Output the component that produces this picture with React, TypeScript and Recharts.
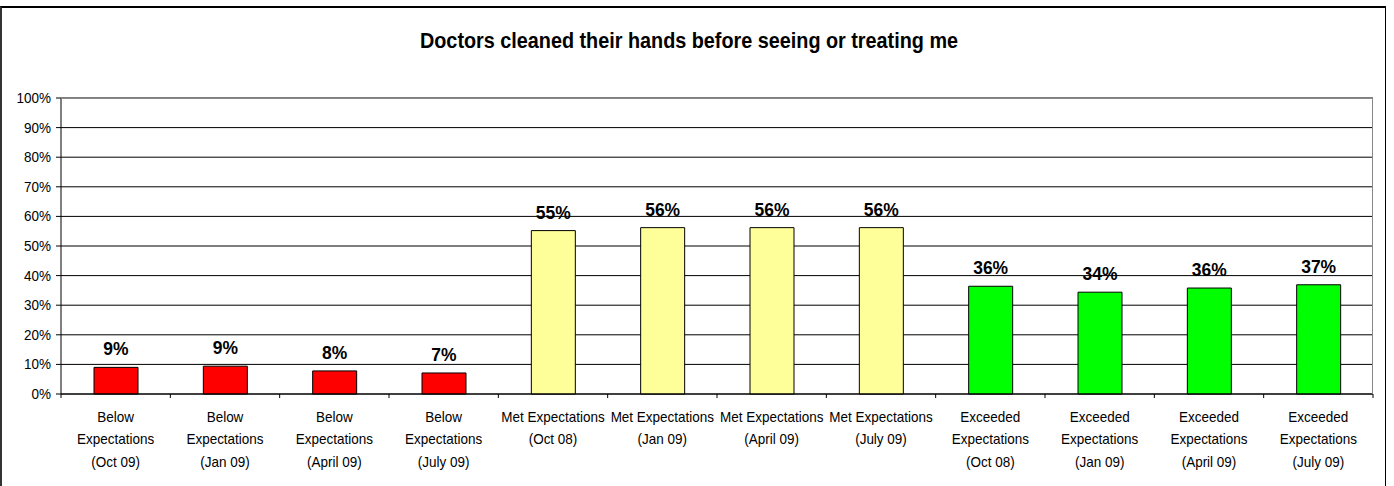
import { BarChart, Bar, XAxis, YAxis, CartesianGrid, Cell, LabelList } from 'recharts'

// categories, one line break per rendered line
const categories = [
  'Below\nExpectations\n(Oct 09)',
  'Below\nExpectations\n(Jan 09)',
  'Below\nExpectations\n(April 09)',
  'Below\nExpectations\n(July 09)',
  'Met Expectations\n(Oct 08)',
  'Met Expectations\n(Jan 09)',
  'Met Expectations\n(April 09)',
  'Met Expectations\n(July 09)',
  'Exceeded\nExpectations\n(Oct 08)',
  'Exceeded\nExpectations\n(Jan 09)',
  'Exceeded\nExpectations\n(April 09)',
  'Exceeded\nExpectations\n(July 09)',
]

// % of responses
const percents = [9.0, 9.4, 7.8, 7.1, 55.2, 56.2, 56.2, 56.2, 36.4, 34.4, 35.8, 36.9]

const yTicks = [0, 10, 20, 30, 40, 50, 60, 70, 80, 90, 100]

const title = 'Doctors cleaned their hands before seeing or treating me'

// fill by rating group (first word of the category)
const groupFill: Record<string, string> = {
  Below: '#FF0000',
  Met: '#FFFF99',
  Exceeded: '#00FF00',
}

const W = 1394
const H = 486
const PLOT_L = 61
const PLOT_R = 1373
const PLOT_T = 98
const PLOT_B = 394
const Y_AXIS_W = 50
const X_AXIS_H = 80
const BAND = (PLOT_R - PLOT_L) / categories.length
const FONT = '"Liberation Sans", Arial, sans-serif'
// the original text is drawn a bit narrow
const NARROW = 0.9

const data = categories.map((name, i) => ({ name, value: percents[i] }))

function CategoryTick(props: any) {
  const { x, index, payload } = props
  const lines = String(payload.value).split('\n')
  const half = BAND / 2
  return (
    <g>
      <line x1={x - half} x2={x - half} y1={PLOT_B} y2={PLOT_B + 4} stroke="#000" />
      {index === categories.length - 1 && (
        <line x1={x + half} x2={x + half} y1={PLOT_B} y2={PLOT_B + 4} stroke="#000" />
      )}
      <g transform={`translate(${x},${PLOT_B + 28}) scale(${NARROW},1)`}>
        <text x={0} y={0} textAnchor="middle" fontSize={15} fill="#000">
          {lines.map((l, i) => (
            <tspan key={i} x={0} dy={i === 0 ? 0 : 22.5}>
              {l}
            </tspan>
          ))}
        </text>
      </g>
    </g>
  )
}

function PercentTick(props: any) {
  const { x, y, payload } = props
  return (
    <g transform={`translate(${x},${y}) scale(${NARROW},1)`}>
      <text x={0} y={0} dy={5} textAnchor="end" fontSize={15} fill="#000">
        {`${payload.value}%`}
      </text>
    </g>
  )
}

function ValueLabel(props: any) {
  const { x, y, width, value } = props
  return (
    <g transform={`translate(${x + width / 2},${y - 12}) scale(0.92,1)`}>
      <text x={0} y={0} textAnchor="middle" fontSize={19} fontWeight="bold" fill="#000">
        {`${Math.round(Number(value))}%`}
      </text>
    </g>
  )
}

export default function App() {
  return (
    <div
      style={{
        position: 'absolute',
        left: 0,
        top: 0,
        width: W,
        height: H,
        background: '#fff',
        fontFamily: FONT,
        overflow: 'hidden',
      }}
    >
      {/* outer frame */}
      <div
        style={{
          position: 'absolute',
          left: 0,
          top: 6,
          width: 1383,
          height: 490,
          borderTop: '2px solid #000',
          borderLeft: '2px solid #333',
          borderRight: '1px solid #000',
        }}
      />
      <div
        style={{
          position: 'absolute',
          left: 0,
          width: 1378,
          top: 30,
          textAlign: 'center',
          fontSize: 22,
          lineHeight: '22px',
          fontWeight: 'bold',
          color: '#000',
          transform: `scale(${NARROW},1)`,
          transformOrigin: '689px 0',
        }}
      >
        {title}
      </div>

      <div style={{ position: 'absolute', left: 0, top: 0 }}>
        <BarChart
          width={W}
          height={H}
          data={data}
          margin={{
            top: PLOT_T,
            right: W - PLOT_R,
            left: PLOT_L - Y_AXIS_W,
            bottom: H - PLOT_B - X_AXIS_H,
          }}
        >
          <CartesianGrid vertical={false} stroke="#000" />
          <XAxis
            dataKey="name"
            interval={0}
            height={X_AXIS_H}
            axisLine={{ stroke: '#000' }}
            tickLine={false}
            tick={<CategoryTick />}
          />
          <YAxis
            domain={[0, 100]}
            ticks={yTicks}
            width={Y_AXIS_W}
            axisLine={{ stroke: '#000' }}
            tickLine={{ stroke: '#000' }}
            tickSize={5}
            tickMargin={5}
            tick={<PercentTick />}
          />
          <Bar dataKey="value" barSize={44} stroke="#000" strokeWidth={1} isAnimationActive={false}>
            {data.map((d, i) => (
              <Cell key={i} fill={groupFill[d.name.split(/[\s\n]/)[0]]} />
            ))}
            <LabelList dataKey="value" content={<ValueLabel />} />
          </Bar>
        </BarChart>
      </div>

      {/* plot area border (top / right) */}
      <div
        style={{
          position: 'absolute',
          left: PLOT_L,
          top: PLOT_T,
          width: PLOT_R - PLOT_L,
          height: PLOT_B - PLOT_T,
          boxSizing: 'border-box',
          borderTop: '1px solid #888',
          borderRight: '1px solid #888',
          pointerEvents: 'none',
        }}
      />
    </div>
  )
}
